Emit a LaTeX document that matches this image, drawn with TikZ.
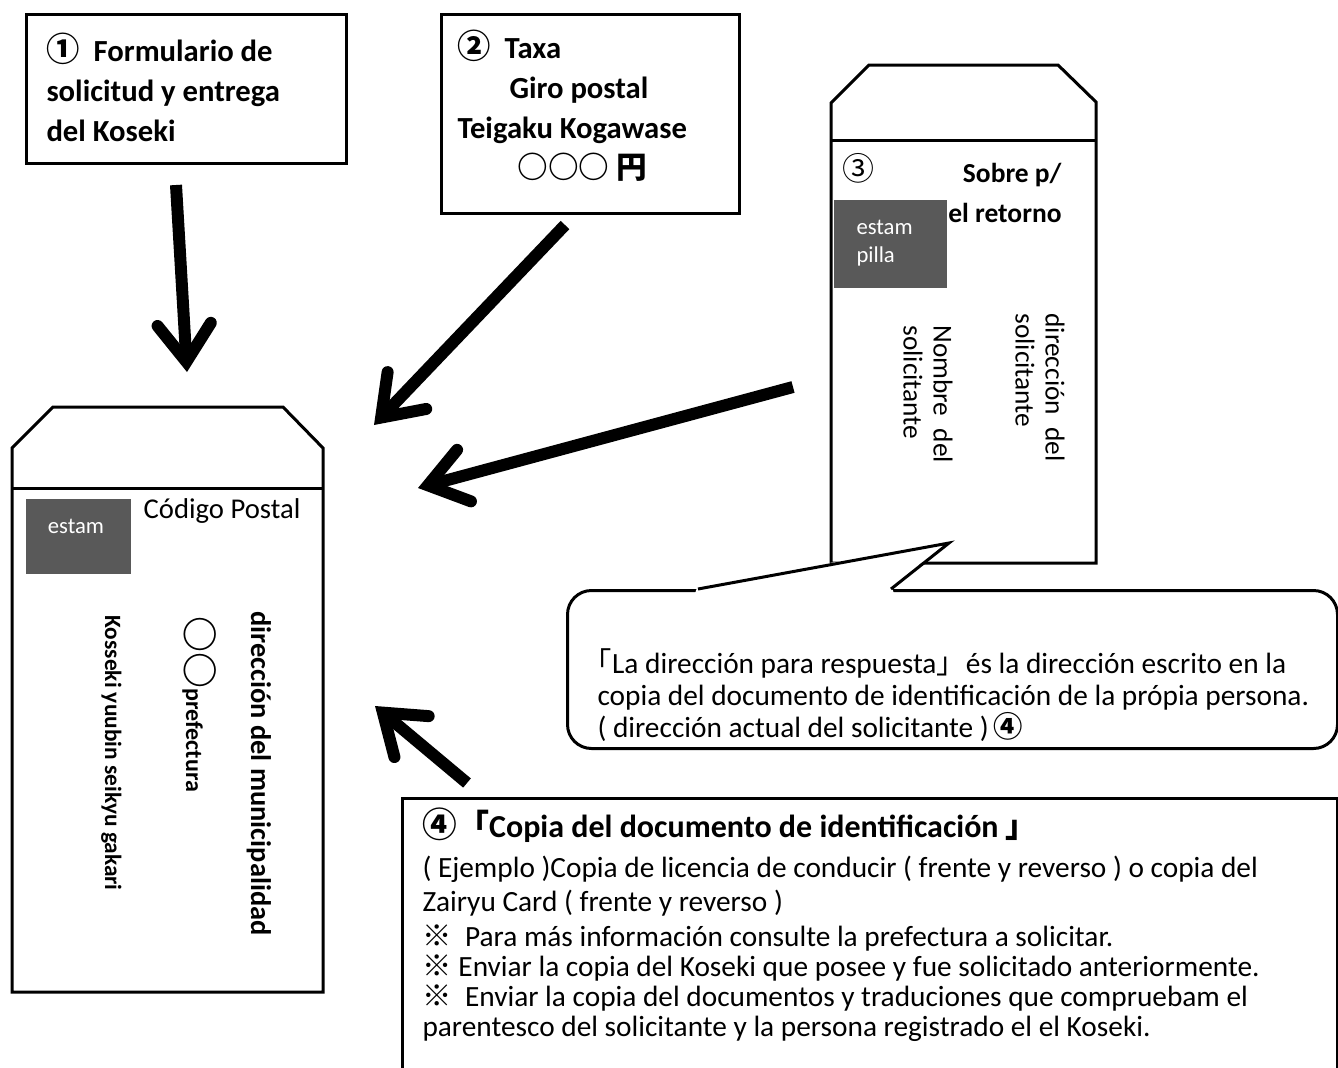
\documentclass[tikz,border=0pt]{standalone}
\usepackage{fontspec}
\setmainfont{Carlito}
\newfontfamily\cjk{Noto Sans CJK JP}
\usepackage{tikz}
\usetikzlibrary{arrows.meta,positioning}
\definecolor{stampgray}{HTML}{595959}
\newcommand{\jp}[1]{{\cjk #1}}
\newcommand{\fs}[2]{\fontsize{#1}{#2}\selectfont\lineskiplimit=-50pt}

\begin{document}
\begin{tikzpicture}[x=0.75pt,y=-0.75pt,line width=2.25pt]
    \tikzstyle{box}=[draw,anchor=north west,inner sep=0pt]
    \tikzstyle{title}=[font=\bfseries\fs{23}{30},align=left,inner sep=0pt,anchor=west]
    \tikzstyle{stamp}=[fill=stampgray]
    \tikzstyle{stxt}=[text=white,font=\fs{17}{21},align=left,inner sep=0pt]
    \tikzstyle{vert}=[rotate=-90,inner sep=0pt]
    \tikzstyle{body}=[font=\fs{22}{24},align=left,inner sep=0pt,anchor=west]
    \tikzstyle{arr}=[line width=9pt,-{Straight Barb[length=28pt,width=40pt,line cap=round]}]
    \useasboundingbox (0,0) rectangle (1338,1067);
    \clip (0,0) rectangle (1338,1067);
    \fill[white] (0,0) rectangle (1338,1067);

    \node[box,minimum width=240pt,minimum height=111.75pt] (form) at (25,13) {};
    \node[title] (formtxt) at (45,87) {\jp{\fs{25}{30}①}\ \ Formulario de\\solicitud y entrega\\del Koseki};
    \node[box,minimum width=223.5pt,minimum height=149.25pt] (fee) at (440,13) {};
    \node[title] (feetxt) at (456,106) {\jp{\fs{25}{30}②}\ \ Taxa\\\hspace*{39pt}Giro postal\\Teigaku Kogawase\\\hspace*{45pt}\jp{○○○\ 円}};

    \draw[line join=miter] (12,992) -- (12,448) -- (53,407) -- (283,407) -- (323,448) -- (323,992) -- cycle;
    \draw (12,488) -- (323,488);
    \fill[stamp] (26,499) rectangle (131,574);
    \node[stxt] (stamp1) at (76,526) {estam};
    \node[font=\fs{21.5}{24},inner sep=0pt] (postal) at (222,511) {Código Postal};
    \node[vert,anchor=base west,font=\bfseries\fs{21.3}{24}] (muni) at (251,610) {dirección del municipalidad};
    \node[vert,anchor=base west,font=\bfseries\fs{18}{20}] (pref) at (186,615) {\jp{\fontsize{27}{27}\selectfont ○○}prefectura};
    \node[vert,anchor=base west,font=\bfseries\fs{17.5}{20}] (kakari) at (105,614) {Kosseki yuubin seikyu gakari};

    \draw[line join=miter] (831,563) -- (831,103) -- (869,65) -- (1058,65) -- (1096,102) -- (1096,563) -- cycle;
    \draw (831,140) -- (1096,140);
    \fill[stamp] (834,200) rectangle (947,288);
    \node[stxt,anchor=north west] (stamp3) at (855,219) {estam\\pilla};
    \node[font=\fs{24}{24},inner sep=0pt] (num3) at (858,168) {\jp{③}};
    \node[font=\bfseries\fs{20.6}{30},align=right,inner sep=0pt,anchor=east] (sobre) at (1063,193) {Sobre p/\\el retorno};
    \node[vert,anchor=north west,align=left,font=\fs{20.5}{22.5}] (nombre) at (954,324) {Nombre\ \ del\\solicitante};
    \node[vert,anchor=north west,align=left,font=\fs{20.5}{22.5}] (dir) at (1066,312) {dirección\ \ del\\solicitante};

    \coordinate (a1s) at (176,185);
    \coordinate (a1e) at (187,372);
    \coordinate (a2s) at (565,225);
    \coordinate (a2e) at (374,425);
    \coordinate (a3s) at (793,387);
    \coordinate (a3e) at (418,488);
    \coordinate (a4s) at (467,783);
    \coordinate (a4e) at (375,706);
    \draw[arr] (a1s) -- (a1e);
    \draw[arr] (a2s) -- (a2e);
    \draw[arr] (a3s) -- (a3e);
    \draw[arr] (a4s) -- (a4e);

    \node[box,rounded corners=18pt,fill=white,minimum width=577.5pt,minimum height=118.5pt] (note) at (566,589) {};
    \fill[white] (695,593.5) -- (698,585) -- (949,543) -- (891,585) -- (894,593.5) -- cycle;
    \draw[line join=miter] (698,589) -- (949,543) -- (891,589);
    \node[body] (notetxt) at (596,695) {\hspace*{-0.5em}\jp{「}La dirección para respuesta\jp{」}és la dirección escrito en la\\copia del documento de identificación de la própia persona.\\( dirección actual del solicitante )\,\jp{\bfseries ④}};

    \node[box,minimum width=701.25pt,minimum height=220pt] (idbox) at (401,797) {};
    \node[font=\bfseries\fs{24}{24},inner sep=0pt,anchor=west] (idtitle) at (421,825) {\jp{\fs{26}{26}④}\jp{「}Copia del documento de identificación \jp{」}};
    \node[body,font=\fs{22}{26}] (example) at (421,886) {( Ejemplo )Copia de licencia de conducir ( frente y reverso ) o copia del\\Zairyu Card ( frente y reverso )};
    \node[body,font=\fs{22}{22.5}] (notes) at (421,983) {\jp{※}\ \ Para más información consulte la prefectura a solicitar.\\\jp{※}\ Enviar la copia del Koseki que posee y fue solicitado anteriormente.\\\jp{※}\ \ Enviar la copia del documentos y traduciones que compruebam el\\parentesco del solicitante y la persona registrado el el Koseki.};
\end{tikzpicture}
\end{document}
